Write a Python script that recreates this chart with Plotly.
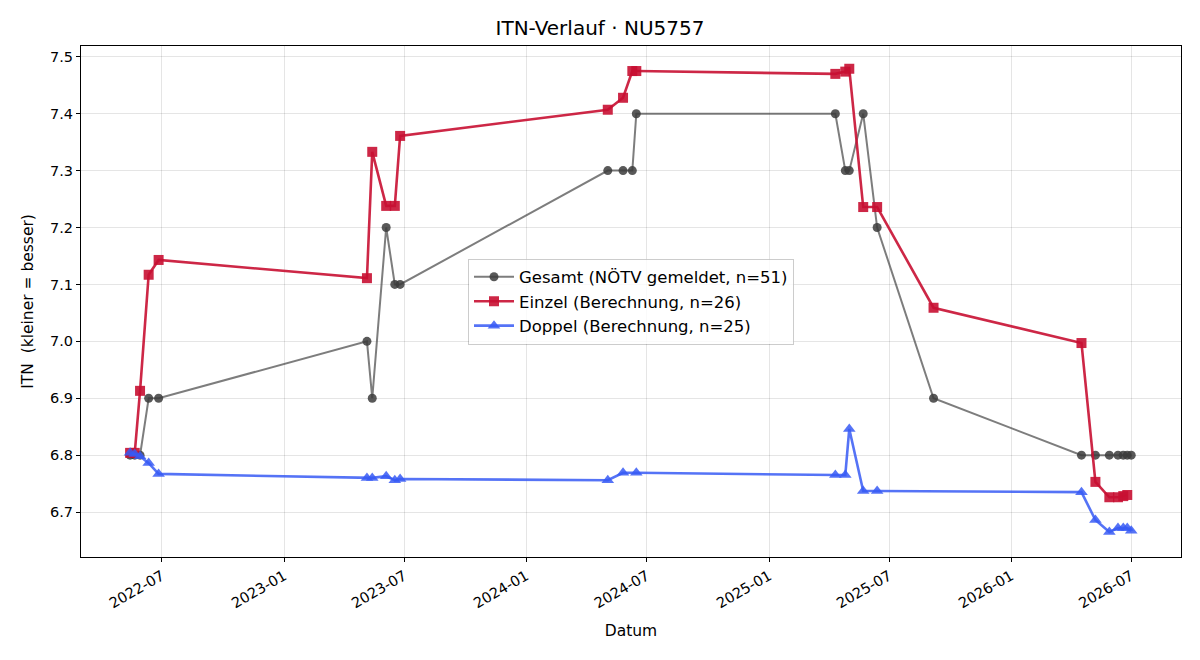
import plotly.graph_objects as go

# Gesamt (NÖTV gemeldet)
gesamt_dates = ["2022-05-14", "2022-05-21", "2022-05-29", "2022-06-11", "2022-06-26",
                "2023-05-06", "2023-05-14", "2023-06-04", "2023-06-17", "2023-06-25",
                "2024-05-03", "2024-05-26", "2024-06-09", "2024-06-15",
                "2025-04-11", "2025-04-26", "2025-05-02", "2025-05-23", "2025-06-13",
                "2025-09-06",
                "2026-04-17", "2026-05-08", "2026-05-29", "2026-06-11", "2026-06-19",
                "2026-06-25", "2026-07-01"]
gesamt_vals = [6.8, 6.8, 6.8, 6.9, 6.9,
               7.0, 6.9, 7.2, 7.1, 7.1,
               7.3, 7.3, 7.3, 7.4,
               7.4, 7.3, 7.3, 7.4, 7.2,
               6.9,
               6.8, 6.8, 6.8, 6.8, 6.8, 6.8, 6.8]

# Einzel (Berechnung)
einzel_dates = ["2022-05-14", "2022-05-21", "2022-05-29", "2022-06-11", "2022-06-26",
                "2023-05-06", "2023-05-14", "2023-06-04", "2023-06-17", "2023-06-25",
                "2024-05-03", "2024-05-26", "2024-06-09", "2024-06-15",
                "2025-04-11", "2025-04-26", "2025-05-02", "2025-05-23", "2025-06-13",
                "2025-09-06",
                "2026-04-17", "2026-05-08", "2026-05-29", "2026-06-11", "2026-06-19",
                "2026-06-25"]
einzel_vals = [6.804, 6.804, 6.913, 7.117, 7.143,
               7.111, 7.333, 7.238, 7.238, 7.361,
               7.407, 7.428, 7.475, 7.475,
               7.470, 7.474, 7.479, 7.236, 7.236,
               7.059,
               6.997, 6.753, 6.726, 6.726, 6.728, 6.730]

# Doppel (Berechnung)
doppel_dates = ["2022-05-14", "2022-05-21", "2022-05-29", "2022-06-11", "2022-06-26",
                "2023-05-06", "2023-05-14", "2023-06-04", "2023-06-17", "2023-06-25",
                "2024-05-03", "2024-05-26", "2024-06-15",
                "2025-04-11", "2025-04-26", "2025-05-02", "2025-05-23", "2025-06-13",
                "2026-04-17", "2026-05-08", "2026-05-29", "2026-06-11", "2026-06-19",
                "2026-06-25", "2026-07-01"]
doppel_vals = [6.804, 6.802, 6.798, 6.786, 6.767,
               6.760, 6.760, 6.763, 6.756, 6.758,
               6.756, 6.769, 6.769,
               6.765, 6.765, 6.846, 6.737, 6.737,
               6.735, 6.686, 6.665, 6.672, 6.672, 6.672, 6.667]

tick_vals = ["2022-07-01", "2023-01-01", "2023-07-01", "2024-01-01", "2024-07-01",
             "2025-01-01", "2025-07-01", "2026-01-01", "2026-07-01"]
tick_text = ["2022-07", "2023-01", "2023-07", "2024-01", "2024-07",
             "2025-01", "2025-07", "2026-01", "2026-07"]

fig = go.Figure()
fig.add_trace(go.Scatter(
    x=gesamt_dates, y=gesamt_vals, mode="lines+markers",
    name="Gesamt (NÖTV gemeldet, n=51)",
    line=dict(color="rgba(70,70,70,0.7)", width=2),
    marker=dict(symbol="circle", size=9, color="rgba(60,60,60,0.85)"),
))
fig.add_trace(go.Scatter(
    x=einzel_dates, y=einzel_vals, mode="lines+markers",
    name="Einzel (Berechnung, n=26)",
    line=dict(color="rgba(200,15,50,0.9)", width=2.6),
    marker=dict(symbol="square", size=10, color="rgba(200,15,50,0.9)"),
))
fig.add_trace(go.Scatter(
    x=doppel_dates, y=doppel_vals, mode="lines+markers",
    name="Doppel (Berechnung, n=25)",
    line=dict(color="rgba(55,90,245,0.85)", width=2.6),
    marker=dict(symbol="triangle-up", size=11, color="rgba(55,90,245,0.85)"),
))

axis_common = dict(
    showline=True, linecolor="black", linewidth=1.2, mirror=True,
    ticks="outside", ticklen=4, tickcolor="black", tickwidth=1,
    showgrid=True, gridcolor="rgba(0,0,0,0.1)", gridwidth=1,
    zeroline=False,
    tickfont=dict(family="DejaVu Sans", size=14.5, color="black"),
)

fig.update_layout(
    width=1200, height=660,
    margin=dict(l=81, r=19, t=46, b=103),
    paper_bgcolor="white", plot_bgcolor="white",
    font=dict(family="DejaVu Sans", size=14, color="black"),
    title=dict(text="ITN-Verlauf · NU5757", x=0.5, xanchor="center",
               y=1 - 28/660, yanchor="middle",
               font=dict(family="DejaVu Sans", size=20, color="black")),
    legend=dict(x=0.5, y=0.5, xanchor="center", yanchor="middle",
                bgcolor="rgba(255,255,255,0.8)", bordercolor="rgba(0,0,0,0.2)",
                borderwidth=1, font=dict(family="DejaVu Sans", size=16.5),
                itemwidth=40, tracegroupgap=2),
    showlegend=True,
)
fig.update_xaxes(
    **axis_common, type="date",
    range=["2022-03-01", "2026-09-14"],
    tickvals=tick_vals, ticktext=tick_text, tickangle=-30,
    title=dict(text="Datum", font=dict(family="DejaVu Sans", size=15.5), standoff=14),
)
fig.update_yaxes(
    **axis_common,
    range=[6.621, 7.519],
    tickvals=[6.7, 6.8, 6.9, 7.0, 7.1, 7.2, 7.3, 7.4, 7.5],
    ticktext=["6.7", "6.8", "6.9", "7.0", "7.1", "7.2", "7.3", "7.4", "7.5"],
    title=dict(text="ITN\u00a0 (kleiner = besser)", font=dict(family="DejaVu Sans", size=15.5), standoff=12),
)

fig.write_html("out.html")
